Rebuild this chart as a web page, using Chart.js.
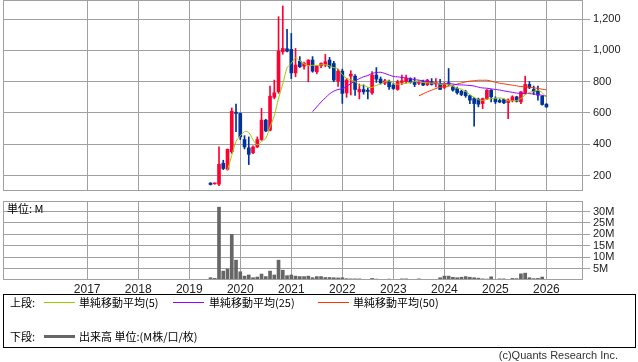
<!DOCTYPE html>
<html>
<head>
<meta charset="utf-8">
<script src="https://cdn.jsdelivr.net/npm/chart.js@4.4.1/dist/chart.umd.min.js"></script>
<style>
  body { margin: 0; background: #fff; width: 638px; height: 362px; position: relative; overflow: hidden;
         font-family: "Noto Sans CJK JP", sans-serif; color: #000; }
  canvas { position: absolute; left: 0; }
  #priceChart { top: 0; }
  #volumeChart { top: 196px; }
  #unit { position: absolute; left: 7px; top: 202px; font-size: 11px; line-height: 13px; color: #000; }
  #legend { position: absolute; left: 3px; top: 294px; width: 631px; height: 52px; border: 1px solid #000; font-size: 11px; }
  #legend span { position: absolute; line-height: 13px; white-space: nowrap; }
  #legend i { position: absolute; display: block; }
  #copy { position: absolute; right: 20px; top: 349px; font-size: 11px; line-height: 13px; color: #333;
          font-family: "Liberation Sans", sans-serif; }
</style>
</head>
<body>
<canvas id="priceChart" width="638" height="196"></canvas>
<canvas id="volumeChart" width="638" height="104"></canvas>
<div id="unit">単位: M</div>
<div id="legend">
  <span style="left:6px;top:1px">上段:</span>
  <i style="left:40px;top:7px;width:31px;border-top:1px solid #99cc00"></i>
  <span style="left:75px;top:1px">単純移動平均(5)</span>
  <i style="left:169px;top:7px;width:31px;border-top:1px solid #9900ff"></i>
  <span style="left:205px;top:1px">単純移動平均(25)</span>
  <i style="left:314px;top:7px;width:31px;border-top:1px solid #ff3300"></i>
  <span style="left:349px;top:1px">単純移動平均(50)</span>
  <span style="left:6px;top:35px">下段:</span>
  <i style="left:40px;top:40px;width:31px;border-top:3px solid #666"></i>
  <span style="left:75px;top:35px">出来高 単位:(M株/口/枚)</span>
</div>
<div id="copy">(c)Quants Research Inc.</div>

<script>
// 月足データ (2019-06 〜 2026-01)
const months = [
  '2019-06','2019-07','2019-08','2019-09','2019-10','2019-11','2019-12',
  '2020-01','2020-02','2020-03','2020-04','2020-05','2020-06','2020-07','2020-08','2020-09','2020-10','2020-11','2020-12',
  '2021-01','2021-02','2021-03','2021-04','2021-05','2021-06','2021-07','2021-08','2021-09','2021-10','2021-11','2021-12',
  '2022-01','2022-02','2022-03','2022-04','2022-05','2022-06','2022-07','2022-08','2022-09','2022-10','2022-11','2022-12',
  '2023-01','2023-02','2023-03','2023-04','2023-05','2023-06','2023-07','2023-08','2023-09','2023-10','2023-11','2023-12',
  '2024-01','2024-02','2024-03','2024-04','2024-05','2024-06','2024-07','2024-08','2024-09','2024-10','2024-11','2024-12',
  '2025-01','2025-02','2025-03','2025-04','2025-05','2025-06','2025-07','2025-08','2025-09','2025-10','2025-11','2025-12',
  '2026-01'
];
const opens = [
  152,147,145,279,240,352,605,
  597,430,377,345,383,430,554,490,700,735,991,1010,
  1006,856,931,899,906,938,863,901,906,938,916,803,
  867,728,835,835,735,750,745,728,842,816,790,803,
  778,750,795,800,820,800,790,800,780,800,785,788,
  763,793,767,756,739,735,710,692,688,660,692,746,
  692,680,686,667,678,703,671,724,782,750,741,707,
  656
];
const highs = [
  155,152,383,298,370,632,656,
  600,455,447,390,447,629,560,771,810,1215,1283,1134,
  1108,1012,960,925,940,960,905,920,974,955,930,880,
  880,820,870,845,785,780,760,865,890,830,815,810,
  790,810,842,842,825,826,805,810,815,820,820,815,
  795,884,775,765,745,745,715,700,695,695,750,750,
  703,690,690,690,710,707,737,835,800,772,772,710,
  660
];
const lows = [
  140,145,136,238,235,342,480,
  430,370,270,340,378,425,480,485,690,725,975,990,
  820,831,890,880,799,860,850,890,895,885,800,770,
  661,700,715,712,690,720,690,718,795,785,780,750,
  750,745,780,790,790,768,780,775,775,778,767,750,
  755,775,740,720,710,700,660,515,639,628,685,670,
  660,665,660,564,670,670,660,720,755,718,682,650,
  635
];
const closes = [
  143,150,272,245,368,611,597,
  447,383,336,383,430,554,485,707,729,995,1012,995,
  856,906,895,916,938,867,899,916,927,895,810,867,
  725,810,848,750,750,735,738,842,816,792,805,767,
  756,799,805,820,795,782,797,778,810,782,795,750,
  788,782,746,729,718,710,682,660,656,692,746,703,
  671,670,665,682,703,675,735,782,761,735,714,654,
  639
];
// 出来高 (百万)
const volumes = [
  1.0,0.7,31.9,3.9,4.8,20.0,8.7,
  3.6,1.7,2.2,1.0,1.3,2.6,1.5,3.9,2.2,8.7,4.3,1.9,
  2.2,1.7,1.5,1.5,1.7,1.0,1.5,1.5,1.1,1.1,1.0,0.9,
  1.0,0.6,0.5,0.5,0.5,0.3,0.2,0.7,0.4,0.2,0.2,0.4,
  0.2,0.2,0.5,0.5,0.3,0.2,0.5,0.2,0.2,0.3,0.3,1.0,
  1.7,1.7,1.2,1.0,1.2,1.5,1.2,1.0,0.8,0.5,0.4,1.4,
  0.2,0.5,0.5,0.3,0.7,0.6,2.7,3.0,1.0,0.6,0.7,1.3,
  0.3
];
const yearLabels = ['2017','2018','2019','2020','2021','2022','2023','2024','2025','2026'];
const priceTicks = [200, 400, 600, 800, 1000, 1200];
const volumeTicks = [5, 10, 15, 20, 25, 30];

const UP = '#ff0033';
const DOWN = '#003399';
const GRID = '#a0a0a0';

// 2017年1月 = 0 とした月番号
const monthIndex = s => (parseInt(s.slice(0, 4)) - 2017) * 12 + parseInt(s.slice(5, 7)) - 1;
const xs = months.map(monthIndex);
const yearIdx = yearLabels.map(y => (parseInt(y) - 2017) * 12);
const X_MIN = -19.8, X_MAX = 116.6;

function sma(arr, n) {
  return arr.map((_, i) => i < n - 1 ? null : arr.slice(i - n + 1, i + 1).reduce((a, b) => a + b, 0) / n);
}
const candleColors = closes.map((c, i) => c >= opens[i] ? UP : DOWN);

const framePlugin = {
  id: 'frame',
  afterDraw(chart) {
    const { ctx, chartArea: a } = chart;
    ctx.save();
    ctx.strokeStyle = GRID;
    ctx.lineWidth = 1;
    ctx.strokeRect(Math.round(a.left) + 0.5, Math.round(a.top) + 0.5, Math.round(a.right - a.left) - 1, Math.round(a.bottom - a.top) - 1);
    ctx.restore();
  }
};

const xScale = (showLabels) => ({
  type: 'linear',
  min: X_MIN,
  max: X_MAX,
  offset: false,
  afterBuildTicks: s => { s.ticks = yearIdx.map(v => ({ value: v })); },
  afterFit: s => { s.height = showLabels ? 20 : 0; s.paddingLeft = 0; s.paddingRight = 0; },
  grid: { color: GRID, drawTicks: false, offset: false },
  border: { display: false },
  ticks: {
    display: showLabels,
    padding: 2,
    maxRotation: 0,
    autoSkip: false,
    color: '#222',
    font: { family: 'Liberation Sans', size: 12 },
    callback: (v) => yearLabels[yearIdx.indexOf(v)]
  }
});

const yScale = (min, max, tickValues, fmt) => ({
  position: 'right',
  min: min,
  max: max,
  afterBuildTicks: s => { s.ticks = tickValues.map(v => ({ value: v })); },
  afterFit: s => { s.width = 55; s.paddingTop = 0; s.paddingBottom = 0; },
  grid: { color: GRID, tickLength: 7 },
  border: { display: false },
  ticks: {
    padding: 3,
    autoSkip: false,
    color: '#222',
    font: { family: 'Liberation Sans', size: 11 },
    callback: fmt
  }
});

const lineDs = (data, color) => ({
  type: 'line',
  data: xs.map((x, i) => ({ x: x, y: data[i] })),
  borderColor: color,
  borderWidth: 1,
  pointRadius: 0,
  tension: 0.3,
  order: 0
});

new Chart(document.getElementById('priceChart'), {
  type: 'bar',
  data: {
    datasets: [
      lineDs(sma(closes, 5), '#99cc00'),
      lineDs(sma(closes, 25), '#9900ff'),
      lineDs(sma(closes, 50), '#ff3300'),
      {
        data: xs.map((x, i) => ({ x: x, y: [opens[i], closes[i]] })),
        backgroundColor: candleColors,
        barThickness: 3,
        minBarLength: 1,
        grouped: false,
        order: 1
      },
      {
        data: xs.map((x, i) => ({ x: x, y: [lows[i], highs[i]] })),
        backgroundColor: candleColors,
        barThickness: 1,
        grouped: false,
        order: 2
      }
    ]
  },
  options: {
    responsive: false,
    animation: false,
    devicePixelRatio: 1,
    layout: { padding: { left: 3, top: 0, right: 0, bottom: 5 } },
    plugins: { legend: { display: false }, tooltip: { enabled: false } },
    scales: {
      x: xScale(false),
      y: yScale(101.5, 1321.6, priceTicks, v => v.toLocaleString('en-US'))
    }
  },
  plugins: [framePlugin]
});

new Chart(document.getElementById('volumeChart'), {
  type: 'bar',
  data: {
    datasets: [{
      data: xs.map((x, i) => ({ x: x, y: volumes[i] })),
      backgroundColor: '#666666',
      barThickness: 3,
      grouped: false
    }]
  },
  options: {
    responsive: false,
    animation: false,
    devicePixelRatio: 1,
    layout: { padding: { left: 3, top: 5, right: 0, bottom: 0 } },
    plugins: { legend: { display: false }, tooltip: { enabled: false } },
    scales: {
      x: xScale(true),
      y: yScale(0, 34.6, volumeTicks, v => v + 'M')
    }
  },
  plugins: [framePlugin]
});
</script>
</body>
</html>
